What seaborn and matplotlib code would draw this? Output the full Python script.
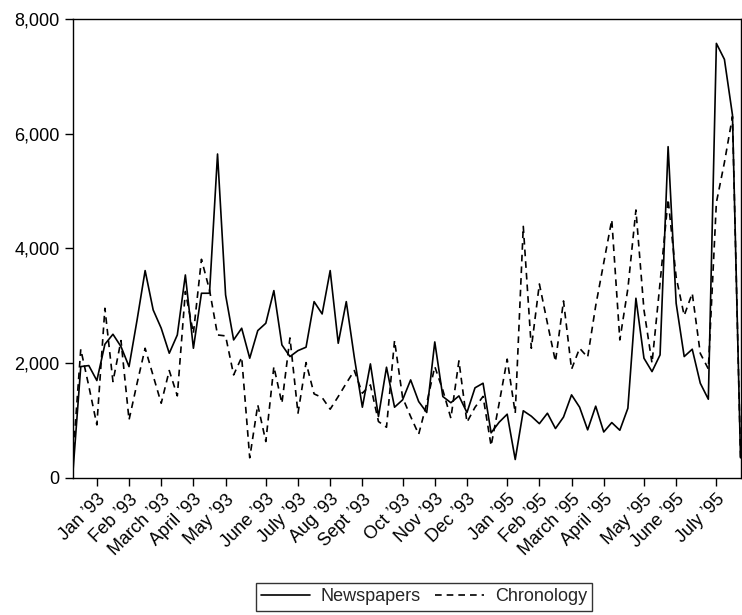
import pandas as pd
import matplotlib
matplotlib.use("Agg")
import matplotlib.pyplot as plt
from matplotlib.lines import Line2D
from matplotlib.ticker import FuncFormatter
import seaborn as sns

# weekly counts
newspapers = [50, 1940, 1958, 1697, 2330, 2504, 2289, 1940, 2754, 3614,
              2928, 2609, 2173, 2492, 3538, 2260, 3219, 3219, 5647, 3190,
              2405, 2609, 2086, 2568, 2696, 3265, 2318, 2115, 2219, 2278,
              3073, 2858, 3614, 2347, 3073, 2100, 1232, 1987, 1069, 1929,
              1232, 1360, 1708, 1330, 1140, 2370, 1418, 1310, 1429, 1139,
              1570, 1650, 785, 970, 1110, 320, 1170, 1075, 945, 1127,
              860, 1060, 1447, 1232, 837, 1250, 800, 964, 830, 1214,
              3132, 2086, 1853, 2144, 5775, 3044, 2115, 2243, 1650, 1371,
              7576, 7297, 6327, 350]
chronology = [300, 2243, 1600, 924, 2957, 1679, 2394, 1011, 1650, 2260,
              1780, 1301, 1871, 1430, 3250, 2520, 3811, 3277, 2492, 2475,
              1795, 2103, 350, 1272, 633, 1940, 1300, 2440, 1127, 2010,
              1464, 1400, 1197, 1418, 1650, 1871, 1476, 1620, 982, 883,
              2394, 1400, 1069, 760, 1300, 1940, 1530, 1040, 2040, 970,
              1230, 1420, 560, 1300, 2070, 1127, 4385, 2260, 3381, 2696,
              2028, 3085, 1894, 2260, 2103, 3000, 3750, 4500, 2405, 3300,
              4671, 2928, 2000, 3400, 4860, 3500, 2830, 3219, 2170, 1900,
              4800, 5500, 6300, 350]

tick_weeks = [3, 7, 11, 15, 19, 24, 28, 32, 36, 41, 45, 49,
              54, 58, 62, 66, 71, 75, 80]
tick_labels = ["Jan \u201993", "Feb \u201993", "March \u201993", "April \u201993",
               "May \u201993", "June \u201993", "July \u201993", "Aug \u201993",
               "Sept \u201993", "Oct \u201993", "Nov \u201993", "Dec \u201993",
               "Jan \u201995", "Feb \u201995", "March \u201995", "April \u201995",
               "May \u201995", "June \u201995", "July \u201995"]

sns.set_style("ticks")
plt.rcParams["font.family"] = ["Liberation Sans", "DejaVu Sans"]

df = pd.DataFrame({"week": range(len(newspapers)),
                   "Newspapers": newspapers,
                   "Chronology": chronology})
long_df = df.melt(id_vars="week", var_name="series", value_name="count")

fig = plt.figure(figsize=(7.42, 6.15), dpi=100)
ax = fig.add_axes([0.098, 0.223, 0.900, 0.746])

sns.lineplot(data=long_df, x="week", y="count", style="series",
             style_order=["Newspapers", "Chronology"],
             dashes={"Newspapers": "", "Chronology": (4, 3)},
             color="black", linewidth=1.2, legend=False, ax=ax)

ax.set_xlim(0, len(newspapers) - 1)
ax.set_ylim(0, 8000)
ax.set_yticks([0, 2000, 4000, 6000, 8000])
ax.yaxis.set_major_formatter(FuncFormatter(lambda v, p: f"{int(v):,}"))
ax.set_xticks(tick_weeks)
ax.set_xticklabels(tick_labels, rotation=45, ha="right", rotation_mode="anchor")
ax.set_xlabel("")
ax.set_ylabel("")
ax.tick_params(axis="both", direction="out", length=6, width=1, colors="black",
               labelsize=13)
for s in ax.spines.values():
    s.set_color("black")
    s.set_linewidth(1)

# legend box sits under the axes, slightly right of centre
handles = [Line2D([], [], color="black", lw=1.2),
           Line2D([], [], color="black", lw=1.2, dashes=(4, 3))]
leg = fig.legend(handles, ["Newspapers", "Chronology"], loc="upper center",
                 bbox_to_anchor=(424 / 742, 0.052), ncol=2, frameon=True,
                 fancybox=False, edgecolor="black", fontsize=13,
                 handlelength=2.7, columnspacing=0.8, borderpad=0.3,
                 borderaxespad=0, handletextpad=0.6)
leg.get_frame().set_linewidth(1)

fig.savefig("out.png", dpi=100)
